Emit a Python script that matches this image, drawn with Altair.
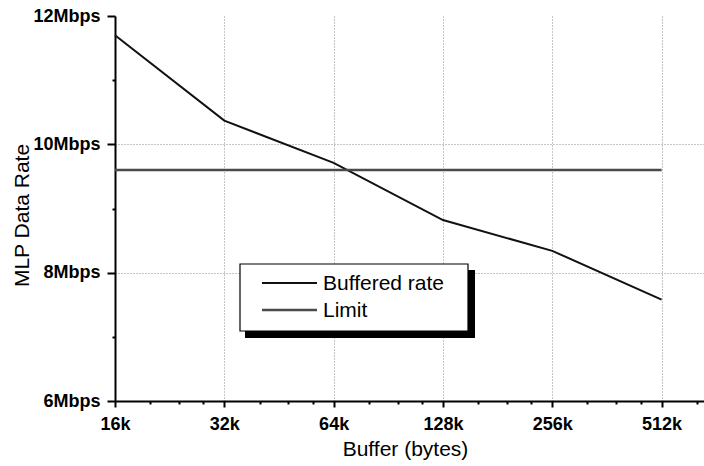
import altair as alt
import pandas as pd

# ---- data ----
buffer_k = [16, 32, 64, 128, 256, 512]
buffered_rate = [11.70, 10.37, 9.71, 8.82, 8.34, 7.58]
limit_x = [16, 512]
limit_rate = [9.6, 9.6]

x_major = [16, 32, 64, 128, 256, 512]
x_minor = [20, 24, 28, 40, 48, 56, 80, 96, 112, 160, 192, 224, 320, 384, 448, 640]
x_grid = [32, 64, 128, 256, 512]
y_major = [6, 8, 10, 12]
y_minor = [7, 9, 11]
y_grid = [8, 10]

legend_names = ["Buffered rate", "Limit"]
legend_colors = ["#111111", "#4a4a4a"]
legend_widths = [2, 2.5]

FONT = "Liberation Sans"
W, H = 589, 385

df_rate = pd.DataFrame({"buffer": buffer_k, "rate": buffered_rate})
df_limit = pd.DataFrame({"buffer": limit_x, "rate": limit_rate})


def in_list(vals):
    return "indexof([" + ",".join(str(v) for v in vals) + "], datum.value) >= 0"


xscale = alt.Scale(type="log", base=2, domain=[16, 670], nice=False)
yscale = alt.Scale(domain=[6, 12], nice=False, zero=False)

xaxis = alt.Axis(
    values=sorted(x_major + x_minor),
    labelExpr="(" + in_list(x_major) + ") ? datum.value + 'k' : ''",
    labelFont=FONT, labelFontSize=18, labelFontWeight="bold", labelColor="black",
    labelFlush=False, labelOverlap=False, labelPadding=8,
    tickColor="black", tickWidth=2,
    tickSize={"condition": {"test": in_list(x_major), "value": 6}, "value": 3},
    domainColor="black", domainWidth=2,
    grid=True, gridColor="#8a8a8a", gridDash=[1, 2], gridWidth=1,
    gridOpacity={"condition": {"test": in_list(x_grid), "value": 1}, "value": 0},
    title="Buffer (bytes)", titleFont=FONT, titleFontSize=21, titleFontWeight="normal",
    titleColor="black", titleX=290, titleY=54, titleBaseline="alphabetic", titleAlign="center",
)

yaxis = alt.Axis(
    values=sorted(y_major + y_minor),
    labelExpr="(" + in_list(y_major) + ") ? datum.value + 'Mbps' : ''",
    labelFont=FONT, labelFontSize=18, labelFontWeight="bold", labelColor="black",
    labelFlush=False, labelOverlap=False, labelPadding=7,
    tickColor="black", tickWidth=2,
    tickSize={"condition": {"test": in_list(y_major), "value": 8}, "value": 3},
    domainColor="black", domainWidth=2,
    grid=True, gridColor="#8a8a8a", gridDash=[1, 2], gridWidth=1,
    gridOpacity={"condition": {"test": in_list(y_grid), "value": 1}, "value": 0},
    title="MLP Data Rate", titleFont=FONT, titleFontSize=21, titleFontWeight="normal",
    titleColor="black", titleX=-87, titleY=199, titleAngle=270,
    titleBaseline="alphabetic", titleAlign="center",
)

rate_line = alt.Chart(df_rate).mark_line(
    color=legend_colors[0], strokeWidth=legend_widths[0]
).encode(
    x=alt.X("buffer:Q", scale=xscale, axis=xaxis, title="Buffer (bytes)"),
    y=alt.Y("rate:Q", scale=yscale, axis=yaxis, title="MLP Data Rate"),
)

limit_line = alt.Chart(df_limit).mark_line(
    color=legend_colors[1], strokeWidth=legend_widths[1]
).encode(
    x=alt.X("buffer:Q", scale=xscale, title="Buffer (bytes)"),
    y=alt.Y("rate:Q", scale=yscale, title="MLP Data Rate"),
)

# ---- custom legend box with drop shadow ----
one = pd.DataFrame({"k": [0]})
shadow = alt.Chart(one).mark_rect(color="black").encode(
    x=alt.value(130), x2=alt.value(360), y=alt.value(254), y2=alt.value(322)
)
box = alt.Chart(one).mark_rect(fill="white", stroke="black", strokeWidth=1.2).encode(
    x=alt.value(125), x2=alt.value(353), y=alt.value(248), y2=alt.value(315)
)

legend_layers = []
for i, name in enumerate(legend_names):
    yy = 267 + i * 27
    d = pd.DataFrame({"name": [name]})
    legend_layers.append(
        alt.Chart(d).mark_rule(color=legend_colors[i], strokeWidth=legend_widths[i]).encode(
            x=alt.value(147), x2=alt.value(202), y=alt.value(yy)
        )
    )
    legend_layers.append(
        alt.Chart(d).mark_text(
            align="left", baseline="middle", font=FONT, fontSize=21, color="black"
        ).encode(x=alt.value(208), y=alt.value(yy + 1), text="name:N")
    )

chart = alt.layer(rate_line, limit_line, shadow, box, *legend_layers).properties(
    width=W,
    height=H,
    autosize=alt.AutoSizeParams(type="none"),
    padding={"left": 115, "top": 16, "right": 0, "bottom": 65},
    background="white",
).configure_view(stroke=None)

chart.save("out.html", embed_options={"renderer": "svg", "actions": False})
